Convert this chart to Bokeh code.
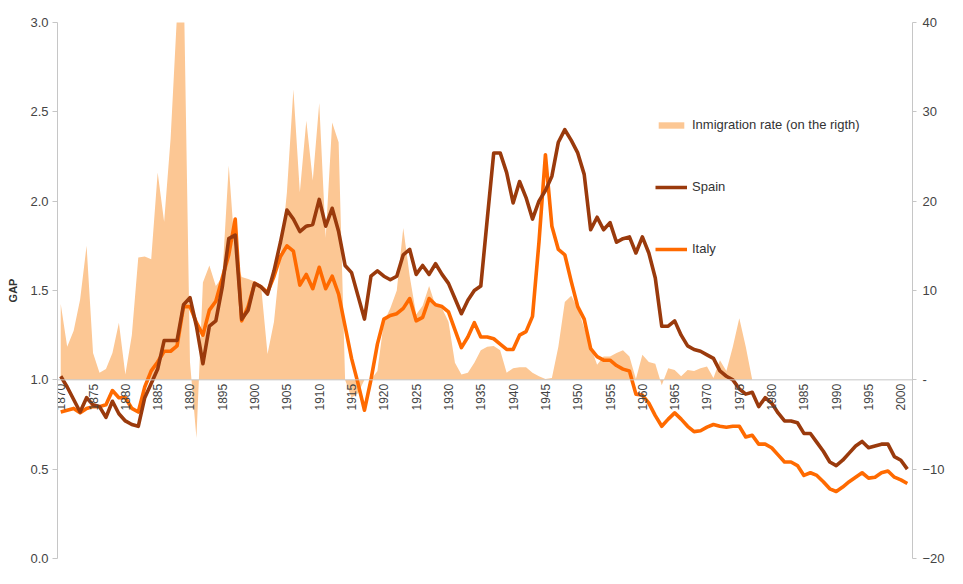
import numpy as np
from bokeh.plotting import figure
from bokeh.models import Range1d, LinearAxis, FixedTicker, Span, Legend, LegendItem, NumeralTickFormatter
from bokeh.embed import file_html
from bokeh.resources import INLINE
from bokeh.core.properties import value

# ---------------- data ----------------
years = list(range(1870, 2002))

spain = [
    1.02, 0.96, 0.89, 0.82, 0.90, 0.86, 0.85, 0.79, 0.88, 0.81,   # 1870-1879
    0.77, 0.75, 0.74, 0.90, 0.98, 1.06, 1.22, 1.22, 1.22, 1.42,   # 1880-1889
    1.46, 1.30, 1.09, 1.30, 1.33, 1.52, 1.79, 1.81, 1.34, 1.39,   # 1890-1899
    1.54, 1.52, 1.48, 1.61, 1.77, 1.95, 1.90, 1.83, 1.86, 1.87,   # 1900-1909
    2.01, 1.86, 1.96, 1.83, 1.64, 1.60, 1.47, 1.34, 1.58, 1.61,   # 1910-1919
    1.58, 1.56, 1.58, 1.70, 1.73, 1.59, 1.64, 1.59, 1.65, 1.59,   # 1920-1929
    1.54, 1.455, 1.37, 1.445, 1.50, 1.525, 1.90, 2.27, 2.27, 2.16,  # 1930-1939
    1.99, 2.11, 2.02, 1.90, 2.00, 2.06, 2.14, 2.33, 2.40, 2.34,   # 1940-1949
    2.27, 2.15, 1.84, 1.91, 1.84, 1.88, 1.77, 1.79, 1.80, 1.71,   # 1950-1959
    1.80, 1.71, 1.57, 1.30, 1.30, 1.33, 1.25, 1.19, 1.17, 1.16,   # 1960-1969
    1.14, 1.12, 1.05, 1.02, 1.00, 0.95, 0.92, 0.93, 0.85, 0.90,   # 1970-1979
    0.87, 0.815, 0.77, 0.77, 0.76, 0.70, 0.70, 0.65, 0.60, 0.54,  # 1980-1989
    0.52, 0.55, 0.59, 0.63, 0.655, 0.62, 0.63, 0.64, 0.64, 0.57,  # 1990-1999
    0.55, 0.50,                                                   # 2000-2001
]

italy = [
    0.82, 0.83, 0.84, 0.815, 0.84, 0.85, 0.85, 0.86, 0.94, 0.90,  # 1870-1879
    0.90, 0.84, 0.82, 0.96, 1.05, 1.10, 1.16, 1.16, 1.19, 1.41,   # 1880-1889
    1.41, 1.32, 1.25, 1.39, 1.44, 1.57, 1.70, 1.90, 1.33, 1.41,   # 1890-1899
    1.54, 1.52, 1.49, 1.58, 1.69, 1.75, 1.72, 1.53, 1.59, 1.51,   # 1900-1909
    1.63, 1.51, 1.58, 1.48, 1.30, 1.12, 0.98, 0.83, 1.00, 1.20,   # 1910-1919
    1.34, 1.36, 1.37, 1.40, 1.455, 1.33, 1.35, 1.455, 1.42, 1.41, # 1920-1929
    1.38, 1.28, 1.18, 1.24, 1.32, 1.24, 1.24, 1.23, 1.20, 1.17,   # 1930-1939
    1.17, 1.25, 1.27, 1.355, 1.77, 2.26, 1.86, 1.73, 1.70, 1.55,  # 1940-1949
    1.41, 1.34, 1.175, 1.13, 1.11, 1.11, 1.08, 1.06, 1.05, 0.92,  # 1950-1959
    0.915, 0.87, 0.80, 0.74, 0.78, 0.815, 0.78, 0.74, 0.71, 0.715,  # 1960-1969
    0.735, 0.75, 0.74, 0.735, 0.74, 0.74, 0.68, 0.69, 0.64, 0.64,   # 1970-1979
    0.62, 0.58, 0.54, 0.54, 0.52, 0.465, 0.48, 0.465, 0.43, 0.39,   # 1980-1989
    0.375, 0.40, 0.43, 0.455, 0.48, 0.45, 0.455, 0.48, 0.49, 0.455, # 1990-1999
    0.44, 0.42,                                                     # 2000-2001
]

imm_years = list(range(1870, 1978))
immigration = [
    8.5, 3.7, 5.5, 9.0, 15.0, 3.0, 0.8, 1.2, 3.0, 6.4,        # 1870-1879
    0.6, 5.0, 13.7, 13.8, 13.5, 23.2, 17.7, 27.0, 41.0, 46.0,  # 1880-1889
    2.0, -6.5, 10.9, 12.8, 10.5, 11.5, 24.0, 14.0, 11.5, 11.3, # 1890-1899
    11.0, 10.5, 2.9, 6.5, 13.7, 21.0, 32.5, 21.0, 29.0, 22.3,  # 1900-1909
    31.0, 15.9, 28.8, 26.6, 0.0, -2.0, -1.5, 0.0, 0.0, 1.0,    # 1910-1919
    6.5, 8.0, 10.0, 17.0, 11.6, 7.3, 8.3, 10.5, 8.3, 8.0,      # 1920-1929
    6.5, 1.9, 0.6, 0.8, 1.9, 3.3, 3.7, 3.8, 3.3, 0.8,          # 1930-1939
    1.3, 1.4, 1.4, 0.8, 0.4, 0.1, 0.2, 3.7, 8.7, 9.4,          # 1940-1949
    8.0, 5.8, 3.7, 1.7, 2.6, 2.6, 3.0, 3.3, 2.6, 0.1,          # 1950-1959
    2.8, 2.0, 1.8, -0.6, 1.3, 1.1, 0.4, 1.1, 1.0, 1.3,         # 1960-1969
    1.5, 0.2, 2.2, 1.0, 3.7, 6.9, 3.7, 0.0,                    # 1970-1977
]

tick_years = list(range(1870, 2001, 5))
tick_labels = [str(y) for y in tick_years]
left_ticks = [0.0, 0.5, 1.0, 1.5, 2.0, 2.5, 3.0]
right_ticks = [-20, -10, 0, 10, 20, 30, 40]

FONT = "Liberation Sans"
GREY = "#c6c6c6"
LABEL = "#444444"

p = figure(width=947, height=568, output_backend="svg", toolbar_location=None,
           x_range=Range1d(1869.5, 2001.8), y_range=Range1d(0, 3),
           x_axis_location=None,
           min_border_left=57, min_border_right=30, min_border_top=22, min_border_bottom=10)
p.extra_y_ranges = {"imm": Range1d(-20, 40)}
p.xgrid.visible = False
p.ygrid.visible = False
p.outline_line_color = None
p.background_fill_color = "white"

# left axis
ya = p.yaxis[0]
ya.ticker = FixedTicker(ticks=left_ticks)
ya.formatter = NumeralTickFormatter(format="0.0")
ya.axis_line_color = GREY
ya.major_tick_line_color = GREY
ya.major_tick_out = 5
ya.major_tick_in = 0
ya.minor_tick_line_color = None
ya.major_label_text_font = FONT
ya.major_label_text_font_size = "13px"
ya.major_label_text_color = LABEL
ya.major_label_standoff = 4
ya.axis_label = "GAP"
ya.axis_label_text_font = FONT
ya.axis_label_text_font_size = "11px"
ya.axis_label_text_font_style = "bold"
ya.axis_label_text_color = "#333333"
ya.axis_label_standoff = 8

# right axis
ra = LinearAxis(y_range_name="imm", ticker=FixedTicker(ticks=right_ticks),
                major_label_overrides={0: "-"})
ra.axis_line_color = GREY
ra.major_tick_line_color = GREY
ra.major_tick_out = 4
ra.major_tick_in = 0
ra.minor_tick_line_color = None
ra.major_label_text_font = FONT
ra.major_label_text_font_size = "13px"
ra.major_label_text_color = LABEL
ra.major_label_standoff = 6
p.add_layout(ra, "right")

# immigration area (right scale)
area = p.varea(x=imm_years, y1=0, y2=immigration, y_range_name="imm",
               fill_color="#FCC794", fill_alpha=1.0)

# horizontal axis line at GAP = 1.0
p.add_layout(Span(location=1.0, dimension="width", line_color=GREY, line_width=1))

# lines
it = p.line(years, italy, line_color="#FF6A00", line_width=3.6, line_join="round")
sp = p.line(years, spain, line_color="#9A3A0C", line_width=3.6, line_join="round")

# year labels along the 1.0 line
p.text(x=tick_years, y=[1.0] * len(tick_years), text=tick_labels, angle=np.pi / 2,
       text_align="right", text_baseline="middle", y_offset=4,
       text_font=value(FONT), text_font_size="12px", text_color=LABEL)

legend = Legend(items=[
    LegendItem(label="Inmigration rate (on the rigth)", renderers=[area]),
    LegendItem(label="Spain", renderers=[sp]),
    LegendItem(label="Italy", renderers=[it]),
], location=(598, 302))
legend.border_line_color = None
legend.background_fill_alpha = 0
legend.glyph_width = 32
legend.glyph_height = 8
legend.label_standoff = 5
legend.spacing = 47
legend.padding = 0
legend.margin = 0
legend.label_text_font = FONT
legend.label_text_font_size = "13px"
legend.label_text_color = "#333333"
p.add_layout(legend)

open("out.html", "w").write(file_html(p, INLINE))
